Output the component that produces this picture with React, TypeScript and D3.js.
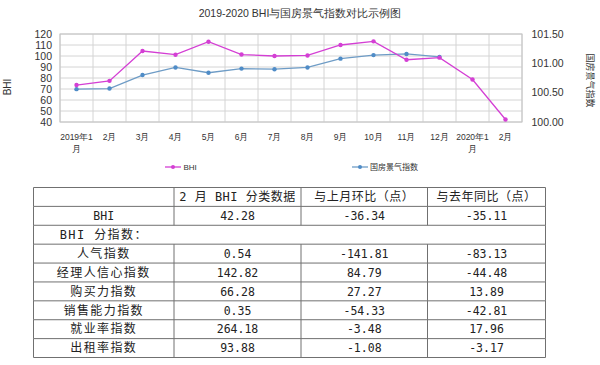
import React from "react";
import * as d3 from "d3";

const months = ["2019年1月", "2月", "3月", "4月", "5月", "6月", "7月", "8月", "9月", "10月", "11月", "12月", "2020年1月", "2月"];
const bhiValues = [73.6, 77.39, 104.5, 101.2, 113.0, 101.3, 100.0, 100.5, 110.0, 113.3, 96.6, 98.5, 78.62, 42.28];
const guofangValues: (number | null)[] = [100.56, 100.57, 100.8, 100.93, 100.84, 100.91, 100.9, 100.93, 101.08, 101.14, 101.16, 101.11, null, null];
const leftTicks = [40, 50, 60, 70, 80, 90, 100, 110, 120];
const rightTicks = [100.0, 100.5, 101.0, 101.5];

const tableHeader = ["", "2 月 BHI 分类数据", "与上月环比（点）", "与去年同比（点）"];
const rowNames = ["BHI", "BHI 分指数：", "人气指数", "经理人信心指数", "购买力指数", "销售能力指数", "就业率指数", "出租率指数"];
const colFeb = ["42.28", "", "0.54", "142.82", "66.28", "0.35", "264.18", "93.88"];
const colMoM = ["-36.34", "", "-141.81", "84.79", "27.27", "-54.33", "-3.48", "-1.08"];
const colYoY = ["-35.11", "", "-83.13", "-44.48", "13.89", "-42.81", "17.96", "-3.17"];

const W = 600;
const H = 365;
const plot = { left: 60, right: 522, top: 34, bottom: 122 };
const table = { left: 33.5, top: 187.5, bottom: 357.5, cols: [33.5, 174, 301, 427.5, 545.5] };

const BHI_COLOR = "#d43fd4";
const GF_COLOR = "#6e9cc6";
const GF_MARK = "#4f8cc7";
const GRID = "#d4d4d4";
const TEXT = "#333";
const SANS = "'Liberation Sans', Arial, sans-serif";
const CJK = "'Noto Sans CJK SC', sans-serif";
const MONO = "'DejaVu Sans Mono', monospace";

export default function App() {
  const x = d3.scaleBand<string>().domain(months.map((m, i) => i + "")).range([plot.left, plot.right]).paddingInner(0).paddingOuter(0);
  const bw = x.bandwidth();
  const cx = (i: number) => (x(i + "") as number) + bw / 2;
  const yL = d3.scaleLinear().domain([40, 120]).range([plot.bottom, plot.top]);
  const yR = d3.scaleLinear().domain([100, 101.5]).range([plot.bottom, plot.top]);

  const bhiLine = d3.line<number>().x((_, i) => cx(i)).y((d) => yL(d));
  const gfLine = d3
    .line<number | null>()
    .defined((d) => d != null)
    .x((_, i) => cx(i))
    .y((d) => yR(d as number));

  const vLines = months.map((_, i) => x(i + "") as number).concat([plot.right]);

  const nRows = rowNames.length + 1;
  const rh = (table.bottom - table.top) / nRows;
  const colCenter = (c: number) => (table.cols[c] + table.cols[c + 1]) / 2;

  return (
    <svg width={W} height={H} style={{ position: "absolute", left: 0, top: 0, background: "#fff" }}>
      <rect x={0} y={0} width={W} height={H} fill="#fff" />
      {/* title */}
      <text x={300} y={17} textAnchor="middle" fontFamily={SANS} fontSize={10.5} fill={TEXT}>
        2019-2020 BHI与国房景气指数对比示例图
      </text>

      {/* grid */}
      {leftTicks.map((t) => (
        <line key={"h" + t} x1={plot.left} x2={plot.right} y1={yL(t)} y2={yL(t)} stroke={GRID} strokeWidth={1} />
      ))}
      {vLines.map((v, i) => (
        <line key={"v" + i} x1={v} x2={v} y1={plot.top} y2={plot.bottom} stroke={GRID} strokeWidth={1} />
      ))}
      <rect x={plot.left} y={plot.top} width={plot.right - plot.left} height={plot.bottom - plot.top} fill="none" stroke="#c4c4c4" />

      {/* left ticks */}
      {leftTicks.map((t) => (
        <text key={"lt" + t} x={52} y={yL(t) + 3.8} textAnchor="end" fontFamily={SANS} fontSize={10.5} fill={TEXT}>
          {t}
        </text>
      ))}
      {/* right ticks */}
      {rightTicks.map((t) => (
        <text key={"rt" + t} x={531.5} y={yR(t) + 3.8} textAnchor="start" fontFamily={SANS} fontSize={10.5} fill={TEXT}>
          {t.toFixed(2)}
        </text>
      ))}
      {/* axis titles */}
      <text transform={`translate(10.5,87) rotate(-90)`} textAnchor="middle" fontFamily={SANS} fontSize={10} fill={TEXT}>
        BHI
      </text>
      <text transform={`translate(587,80.5) rotate(90)`} textAnchor="middle" fontFamily={CJK} fontSize={9} fill={TEXT}>
        国房景气指数
      </text>

      {/* x labels */}
      {months.map((m, i) => {
        const wrap = m.length > 4;
        const l1 = wrap ? m.slice(0, -1) : m;
        return (
          <g key={"xl" + i}>
            <text x={cx(i)} y={139.5} textAnchor="middle" fontFamily={SANS} fontSize={8.5} fill={TEXT}>
              {l1}
            </text>
            {wrap && (
              <text x={cx(i)} y={152} textAnchor="middle" fontFamily={SANS} fontSize={8.5} fill={TEXT}>
                月
              </text>
            )}
          </g>
        );
      })}

      {/* lines */}
      <path d={gfLine(guofangValues) || ""} fill="none" stroke={GF_COLOR} strokeWidth={1.3} />
      {guofangValues.map((v, i) =>
        v == null ? null : <circle key={"gm" + i} cx={cx(i)} cy={yR(v)} r={2.2} fill={GF_MARK} />
      )}
      <path d={bhiLine(bhiValues) || ""} fill="none" stroke={BHI_COLOR} strokeWidth={1.3} />
      {bhiValues.map((v, i) => (
        <circle key={"bm" + i} cx={cx(i)} cy={yL(v)} r={2.2} fill={BHI_COLOR} />
      ))}

      {/* legend */}
      <line x1={165} x2={181} y1={167} y2={167} stroke={BHI_COLOR} strokeWidth={1.3} />
      <circle cx={173} cy={167} r={2} fill={BHI_COLOR} />
      <text x={183.5} y={170} fontFamily={SANS} fontSize={8} fill={TEXT}>BHI</text>
      <line x1={352} x2={368} y1={167} y2={167} stroke={GF_COLOR} strokeWidth={1.3} />
      <circle cx={360} cy={167} r={2} fill={GF_MARK} />
      <text x={370} y={170} fontFamily={CJK} fontSize={8} fill={TEXT}>国房景气指数</text>

      {/* table */}
      <g>
        {d3.range(nRows + 1).map((r) => (
          <line key={"tr" + r} x1={table.cols[0]} x2={table.cols[4]} y1={table.top + r * rh} y2={table.top + r * rh} stroke="#707070" strokeWidth={1} />
        ))}
        {table.cols.map((c, ci) => (
          <g key={"tc" + ci}>
            {d3.range(nRows).map((r) => {
              const inner = ci > 0 && ci < 4;
              if (inner && r === 2) return null;
              return (
                <line key={"tcs" + r} x1={c} x2={c} y1={table.top + r * rh} y2={table.top + (r + 1) * rh} stroke="#707070" strokeWidth={1} />
              );
            })}
          </g>
        ))}
        {tableHeader.map((h, ci) => (
          <text key={"th" + ci} x={colCenter(ci)} y={table.top + rh / 2 + 4.3} textAnchor="middle" fontFamily={`${MONO.split(",")[0]}, ${CJK}`} fontSize={12} letterSpacing={0.5} fill="#222">
            {h}
          </text>
        ))}
        {rowNames.map((n, ri) => {
          const yy = table.top + (ri + 1) * rh + rh / 2 + 4.3;
          const isLatin = n === "BHI";
          return (
            <g key={"row" + ri}>
              <text x={colCenter(0)} y={yy} textAnchor="middle" fontFamily={isLatin ? MONO : `${MONO.split(",")[0]}, ${CJK}`} fontSize={isLatin ? 11.5 : 12} letterSpacing={isLatin ? 0 : 1.4} fill="#222">
                {n}
              </text>
              {[colFeb, colMoM, colYoY].map((col, ci) => (
                <text key={"c" + ci} x={colCenter(ci + 1)} y={yy} textAnchor="middle" fontFamily={MONO} fontSize={11.5} fill="#222">
                  {col[ri]}
                </text>
              ))}
            </g>
          );
        })}
      </g>
    </svg>
  );
}
